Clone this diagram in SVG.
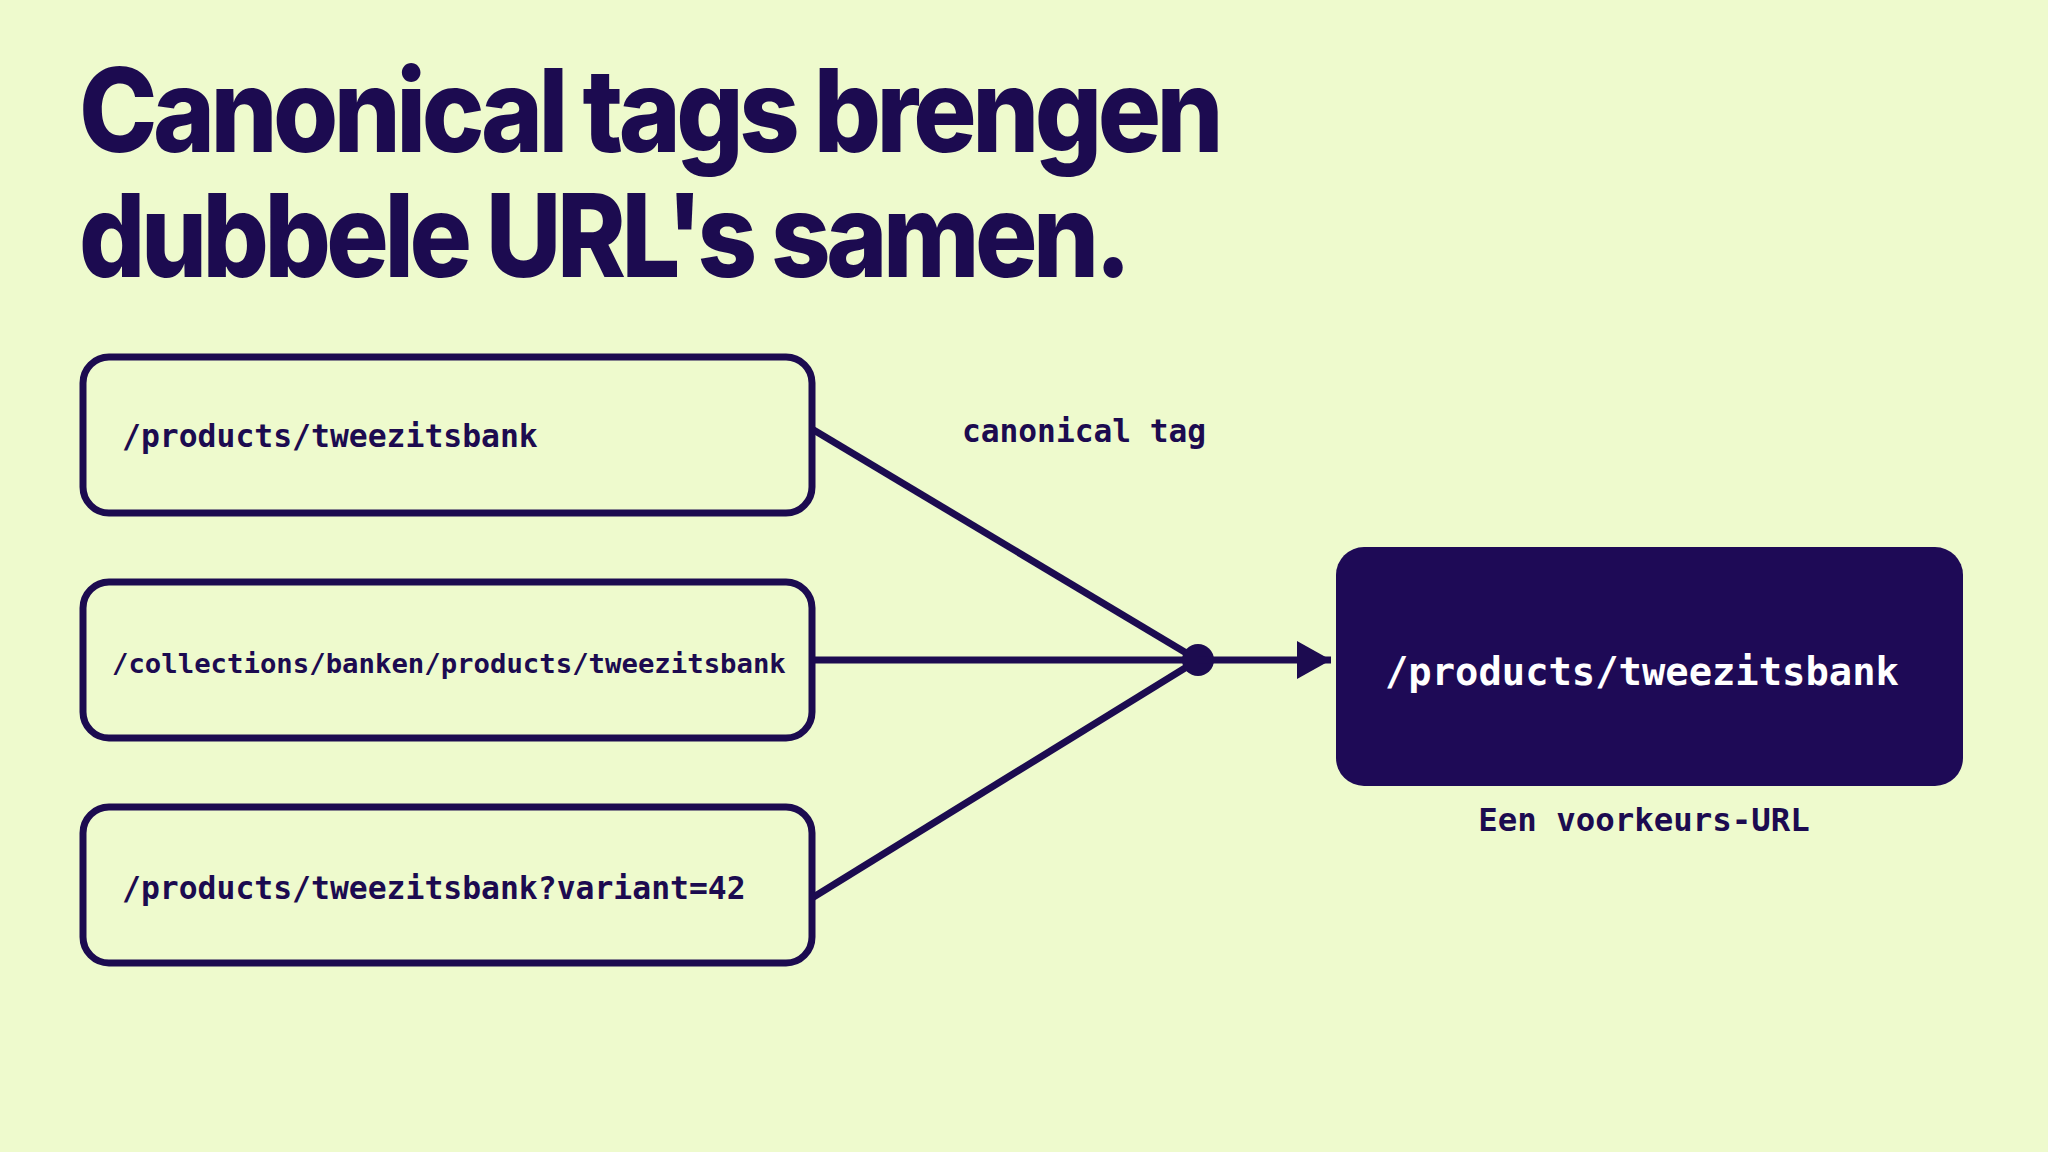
<svg xmlns="http://www.w3.org/2000/svg" width="2048" height="1152" viewBox="0 0 2048 1152">
  <defs>
    <style>
      .bg { fill: #eefacd; }
      .title { font-family: Inter, "Liberation Sans", sans-serif; font-weight: 800; font-size: 116px; fill: #1c0b50; letter-spacing: -5px; }
      .box { fill: none; stroke: #1c0b50; stroke-width: 7; }
      .dark { fill: #1e0a56; }
      .mono { font-family: "DejaVu Sans Mono", "Liberation Mono", monospace; font-weight: 700; fill: #1c0b50; }
      .wire { stroke: #1c0b50; stroke-width: 7; fill: none; }
    </style>
    <marker id="arrow" viewBox="0 0 34 38" refX="34" refY="19" markerUnits="userSpaceOnUse" markerWidth="34" markerHeight="38" orient="auto">
      <path d="M0,0 L34,19 L0,38 Z" fill="#1c0b50"/>
    </marker>
  </defs>
  <rect class="bg" x="0" y="0" width="2048" height="1152"/>

  <g id="title">
    <text class="title" x="79" y="152" textLength="1140" lengthAdjust="spacingAndGlyphs">Canonical tags brengen</text>
    <text class="title" x="79" y="277" textLength="1048" lengthAdjust="spacingAndGlyphs">dubbele URL's samen.</text>
  </g>

  <g id="connectors">
    <line class="wire" x1="812" y1="429" x2="1198" y2="660"/>
    <line class="wire" x1="812" y1="660" x2="1198" y2="660"/>
    <line class="wire" x1="812" y1="898" x2="1198" y2="660"/>
    <circle cx="1198" cy="660" r="16" fill="#1c0b50"/>
    <line class="wire" x1="1198" y1="660" x2="1331" y2="660" marker-end="url(#arrow)"/>
    <text class="mono" x="962" y="442" font-size="31.2">canonical tag</text>
  </g>

  <g id="node-url1">
    <rect class="box" x="83" y="357" width="729" height="156" rx="26"/>
    <text class="mono" x="122" y="447" font-size="31.4">/products/tweezitsbank</text>
  </g>

  <g id="node-url2">
    <rect class="box" x="83" y="582" width="729" height="156" rx="26"/>
    <text class="mono" x="112" y="673" font-size="27.3">/collections/banken/products/tweezitsbank</text>
  </g>

  <g id="node-url3">
    <rect class="box" x="83" y="807" width="729" height="156" rx="26"/>
    <text class="mono" x="122" y="899" font-size="31.4">/products/tweezitsbank?variant=42</text>
  </g>

  <g id="node-canonical">
    <rect class="dark" x="1336" y="547" width="627" height="239" rx="28"/>
    <text class="mono" x="1385" y="685" font-size="38.8" style="fill:#ffffff">/products/tweezitsbank</text>
    <text class="mono" x="1644" y="831" font-size="32.4" text-anchor="middle">Een voorkeurs-URL</text>
  </g>
</svg>
